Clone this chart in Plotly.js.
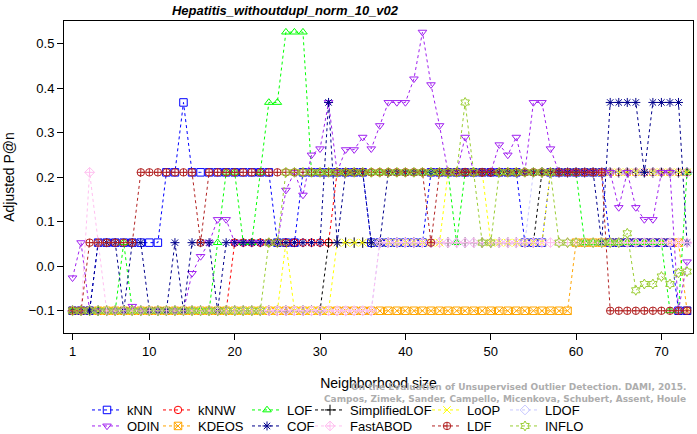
<!DOCTYPE html>
<html>
<head>
<meta charset="utf-8">
<script src="https://cdn.plot.ly/plotly-3.0.1.min.js"></script>
<style>html,body{margin:0;padding:0;background:#fff;}#chart{width:697px;height:434px;}</style>
</head>
<body>
<div id="chart"></div>
<script>
const neighborhood = [1,2,3,4,5,6,7,8,9,10,11,12,13,14,15,16,17,18,19,20,21,22,23,24,25,26,27,28,29,30,31,32,33,34,35,36,37,38,39,40,41,42,43,44,45,46,47,48,49,50,51,52,53,54,55,56,57,58,59,60,61,62,63,64,65,66,67,68,69,70,71,72,73];

const kNN = [-0.1,-0.1,-0.1,0.053,0.053,0.053,0.053,0.053,0.053,0.053,0.053,0.211,0.211,0.368,0.211,0.211,0.211,0.211,0.211,0.211,0.211,0.211,0.211,0.211,0.053,0.053,0.053,0.211,0.211,0.211,0.211,0.211,0.211,0.211,0.211,0.053,0.053,0.053,0.053,0.053,0.053,0.053,0.211,0.211,0.211,0.211,0.211,0.211,0.211,0.211,0.211,0.211,0.211,0.053,0.053,0.053,0.211,0.211,0.211,0.211,0.211,0.211,0.211,0.053,0.053,0.053,0.053,0.053,0.053,0.053,0.053,-0.1,-0.1];
const kNNW = [-0.1,-0.1,-0.1,-0.1,-0.1,-0.1,-0.1,-0.1,-0.1,-0.1,-0.1,-0.1,-0.1,-0.1,-0.1,-0.1,-0.1,-0.1,-0.1,0.053,0.053,0.053,0.053,0.053,0.053,0.053,0.053,0.053,0.053,0.053,0.053,0.211,0.211,0.211,0.211,0.211,0.211,0.211,0.211,0.211,0.211,0.211,0.211,0.211,0.211,0.211,0.211,0.211,0.211,0.211,0.211,0.211,0.211,0.211,0.211,0.211,0.211,0.211,0.211,0.211,0.211,0.211,0.211,0.211,0.211,0.211,0.211,0.211,0.211,0.211,0.211,0.211,0.211];
const LOF = [-0.1,-0.1,-0.1,-0.1,-0.1,-0.1,0.053,-0.1,-0.1,-0.1,-0.1,-0.1,-0.1,-0.1,-0.1,-0.1,-0.1,0.053,0.211,0.211,0.053,0.053,0.211,0.368,0.368,0.526,0.526,0.526,0.211,0.211,0.211,0.211,0.211,0.211,0.211,0.211,0.211,0.211,0.211,0.211,0.211,0.211,0.211,0.211,0.211,0.053,0.211,0.211,0.211,0.211,0.211,0.211,0.211,0.211,0.211,0.211,0.211,0.211,0.211,0.211,0.053,0.053,0.053,0.053,0.053,0.053,0.053,0.053,0.053,0.053,-0.1,-0.1,0.211];
const SimplifiedLOF = [-0.1,-0.1,-0.1,-0.1,-0.1,-0.1,-0.1,-0.1,-0.1,-0.1,-0.1,-0.1,-0.1,-0.1,-0.1,-0.1,-0.1,-0.1,-0.1,-0.1,-0.1,-0.1,-0.1,-0.1,-0.1,-0.1,-0.1,-0.1,-0.1,-0.1,0.053,0.053,0.053,0.053,0.053,0.053,0.053,0.053,0.053,0.053,0.053,0.053,0.053,0.053,0.053,0.053,0.053,0.053,0.053,0.053,0.053,0.053,0.053,0.053,0.053,0.211,0.211,0.211,0.211,0.211,0.211,0.211,0.211,0.211,0.211,0.211,0.211,0.211,0.211,0.211,0.211,0.211,0.211];
const LoOP = [-0.1,-0.1,-0.1,-0.1,-0.1,-0.1,-0.1,-0.1,-0.1,-0.1,-0.1,-0.1,-0.1,-0.1,-0.1,-0.1,-0.1,-0.1,-0.1,-0.1,-0.1,-0.1,-0.1,-0.1,-0.1,0.053,-0.1,-0.1,-0.1,-0.1,-0.1,0.053,0.053,0.053,0.053,0.053,0.053,0.053,0.053,0.053,0.053,0.053,0.053,0.053,0.211,0.211,0.211,0.211,0.211,0.053,0.053,0.053,0.053,0.053,0.053,0.053,0.211,0.211,0.211,0.211,0.211,0.211,0.211,0.211,0.211,0.211,0.211,0.211,0.211,0.211,0.211,0.211,0.211];
const LDOF = [-0.1,-0.1,-0.1,-0.1,-0.1,-0.1,-0.1,-0.1,-0.1,-0.1,-0.1,-0.1,-0.1,-0.1,-0.1,-0.1,-0.1,-0.1,-0.1,-0.1,-0.1,-0.1,-0.1,-0.1,-0.1,-0.1,-0.1,-0.1,-0.1,-0.1,-0.1,-0.1,-0.1,-0.1,-0.1,-0.1,0.053,0.053,0.053,0.053,0.053,0.053,0.053,0.053,0.053,0.053,0.053,0.053,0.053,0.053,0.053,0.053,0.053,0.053,0.211,0.211,0.211,0.211,0.211,0.211,0.211,0.211,0.211,0.211,0.211,0.211,0.211,0.211,0.211,0.211,0.211,0.211,0.211];
const ODIN = [-0.026,0.053,-0.1,-0.1,-0.1,-0.1,-0.1,-0.09,-0.1,-0.1,-0.1,-0.1,-0.1,-0.1,-0.016,0.022,0.053,0.105,0.105,0.053,0.053,0.053,0.053,0.053,0.053,0.171,0.211,0.16,0.25,0.264,0.368,0.211,0.262,0.262,0.29,0.264,0.316,0.368,0.368,0.368,0.421,0.526,0.408,0.316,0.211,0.211,0.29,0.211,0.211,0.211,0.273,0.25,0.29,0.211,0.368,0.368,0.264,0.211,0.211,0.211,0.211,0.211,0.211,0.211,0.132,0.211,0.132,0.105,0.105,0.211,0.211,-0.1,0.01];
const KDEOS = [-0.1,-0.1,-0.1,-0.1,-0.1,-0.1,-0.1,-0.1,-0.1,-0.1,-0.1,-0.1,-0.1,-0.1,-0.1,-0.1,-0.1,-0.1,-0.1,-0.1,-0.1,-0.1,-0.1,-0.1,-0.1,-0.1,-0.1,-0.1,-0.1,-0.1,-0.1,-0.1,-0.1,-0.1,-0.1,-0.1,-0.1,-0.1,-0.1,-0.1,-0.1,-0.1,-0.1,-0.1,-0.1,-0.1,-0.1,-0.1,-0.1,-0.1,-0.1,-0.1,-0.1,-0.1,-0.1,-0.1,-0.1,-0.1,-0.1,0.053,0.053,0.053,0.053,0.053,0.053,0.053,0.053,0.053,0.053,0.053,0.053,0.053,-0.1];
const COF = [-0.1,-0.1,-0.1,0.053,0.053,0.053,-0.1,0.053,0.053,-0.1,-0.1,-0.1,0.053,-0.1,0.053,0.053,0.053,-0.1,0.053,0.053,0.053,0.053,0.053,0.053,0.053,0.053,0.053,0.053,0.053,0.053,0.368,0.053,0.211,0.211,0.211,0.053,0.053,0.211,0.211,0.211,0.211,0.211,0.211,0.211,0.211,0.211,0.211,0.211,0.211,0.211,0.211,0.211,0.211,0.211,0.211,0.211,0.211,0.211,0.211,0.211,0.211,0.211,0.053,0.368,0.368,0.368,0.368,0.211,0.368,0.368,0.368,0.368,0.053];
const FastABOD = [-0.1,-0.1,0.211,0.053,-0.1,-0.1,-0.1,-0.1,-0.1,-0.1,-0.1,-0.1,-0.1,-0.1,-0.1,-0.1,-0.1,-0.1,-0.1,-0.1,-0.1,-0.1,-0.1,-0.1,-0.1,-0.1,-0.1,-0.1,-0.1,-0.1,-0.1,-0.1,-0.1,-0.1,-0.1,-0.1,0.053,0.053,0.053,0.053,0.053,0.053,0.053,0.053,0.053,0.053,0.053,0.053,0.053,0.053,0.053,0.053,0.053,0.053,0.053,0.053,0.053,0.053,0.053,0.053,0.053,0.053,0.053,0.053,0.053,0.053,0.053,0.053,0.053,0.053,0.053,0.053,0.053];
const LDF = [-0.1,-0.1,0.053,0.053,0.053,0.053,0.053,0.053,0.211,0.211,0.211,0.211,0.211,0.211,0.211,0.053,0.211,0.211,0.211,0.211,0.211,0.211,0.211,0.211,0.211,0.211,0.211,0.211,0.211,0.211,0.211,0.211,0.211,0.211,0.211,0.211,0.211,0.211,0.211,0.211,0.211,0.211,0.053,0.211,0.211,0.211,0.211,0.211,0.211,0.211,0.211,0.211,0.211,0.211,0.211,0.211,0.211,0.211,0.211,0.211,0.211,0.211,0.211,-0.1,-0.1,-0.1,-0.1,-0.1,-0.1,-0.1,-0.1,-0.1,-0.1];
const INFLO = [-0.1,-0.1,-0.1,-0.1,-0.1,-0.1,-0.1,-0.1,-0.1,-0.1,-0.1,-0.1,-0.1,-0.1,-0.1,-0.1,-0.1,-0.1,-0.1,-0.1,-0.1,-0.1,-0.1,0.053,0.053,0.211,0.211,0.211,0.211,0.211,0.211,0.211,0.211,0.211,0.211,0.211,0.211,0.211,0.211,0.211,0.211,0.211,0.211,0.211,0.211,0.211,0.368,0.211,0.053,0.053,0.211,0.211,0.211,0.211,0.211,0.211,0.211,0.053,0.053,0.053,0.053,0.053,0.053,0.053,0.053,0.074,-0.054,-0.04,-0.04,-0.023,-0.04,-0.015,-0.012];

const xTicks = [1,10,20,30,40,50,60,70];
const yTicks = [-0.1,0,0.1,0.2,0.3,0.4,0.5];
const yTickText = ["\u22120.1","0.0","0.1","0.2","0.3","0.4","0.5"];

const seriesNames = ["kNN","kNNW","LOF","SimplifiedLOF","LoOP","LDOF","ODIN","KDEOS","COF","FastABOD","LDF","INFLO"];
const seriesValues = [kNN,kNNW,LOF,SimplifiedLOF,LoOP,LDOF,ODIN,KDEOS,COF,FastABOD,LDF,INFLO];
const seriesColors = ["#0000FF","#FF0000","#00FF00","#000000","#FFFF00","#C8C8FF","#A020F0","#FFA500","#00008B","#FFC0F0","#B22222","#9ACD32"];
const seriesSymbols = ["square-open","circle-open","triangle-up-open","cross-thin-open","x-thin-open","diamond-open","triangle-down-open","square-x-open","asterisk-open","diamond-cross-open","circle-cross-open","hexagram-open"];
// drawing order (KDEOS sits underneath the others)
const drawOrder = [7,0,1,2,3,4,5,6,8,9,10,11];

const FONT = "Liberation Sans, Arial, Helvetica, sans-serif";
const W = 697, H = 434, L = 64, R = 693, T = 21, B = 333;
const px2x = p => (p - L) / (R - L);
const px2y = p => (B - p) / (B - T);

// legend layout: 6 columns x 2 rows (text start px, row center px)
const legTextX = [127, 198, 287, 350, 467, 545];
const legRowY = [410, 426];

const traces = drawOrder.map(i => ({
  type: "scatter",
  mode: "lines+markers",
  name: seriesNames[i],
  x: neighborhood,
  y: seriesValues[i],
  line: {color: seriesColors[i], width: 1, dash: "3px,3px"},
  marker: {symbol: seriesSymbols[i], size: 7.5, color: seriesColors[i], line: {width: 1, color: seriesColors[i]}},
  legend: i === 0 ? "legend" : "legend" + (i + 1),
  showlegend: true
}));

const layout = {
  width: W, height: H,
  margin: {l: L, r: W - R, t: T, b: H - B, pad: 0, autoexpand: false},
  paper_bgcolor: "#fff", plot_bgcolor: "#fff",
  font: {family: FONT, size: 13, color: "#000"},
  title: {text: "Hepatitis_withoutdupl_norm_10_v02", x: 285 / W, xref: "container", xanchor: "center", y: 1 - 10 / H, yref: "container", yanchor: "middle",
          font: {family: FONT, size: 13, weight: "bold", style: "italic", color: "#000"}},
  xaxis: {range: [0, 73.7], tickmode: "array", tickvals: xTicks, ticks: "outside", ticklen: 6, tickcolor: "#000", tickwidth: 1,
          showline: true, mirror: true, linecolor: "#000", linewidth: 1, showgrid: false, zeroline: false,
          tickfont: {family: FONT, size: 13, color: "#000"},
          title: {text: "Neighborhood size", font: {family: FONT, size: 14, color: "#000"}, standoff: 20}},
  yaxis: {range: [-0.15, 0.551], tickmode: "array", tickvals: yTicks, ticktext: yTickText, ticks: "outside", ticklen: 6, tickcolor: "#000", tickwidth: 1,
          showline: true, mirror: true, linecolor: "#000", linewidth: 1, showgrid: false, zeroline: false,
          tickfont: {family: FONT, size: 13, color: "#000"},
          title: {text: "Adjusted P@n", font: {family: FONT, size: 14, color: "#000"}, standoff: 10}},
  annotations: [
    {text: "On the Evaluation of Unsupervised Outlier Detection. DAMI, 2015.", xref: "paper", yref: "paper", x: px2x(688), y: px2y(387), xanchor: "right", yanchor: "middle", showarrow: false,
     font: {family: "DejaVu Sans, sans-serif", size: 9, weight: "bold", color: "#ADADAD"}},
    {text: "Campos, Zimek, Sander, Campello, Micenkova, Schubert, Assent, Houle", xref: "paper", yref: "paper", x: px2x(688), y: px2y(399), xanchor: "right", yanchor: "middle", showarrow: false,
     font: {family: "DejaVu Sans, sans-serif", size: 9, weight: "bold", color: "#ADADAD"}}
  ],
  showlegend: true
};

seriesNames.forEach((name, i) => {
  const col = i % 6, row = Math.floor(i / 6);
  const key = i === 0 ? "legend" : "legend" + (i + 1);
  layout[key] = {x: px2x(legTextX[col] - 40), y: px2y(legRowY[row]), xanchor: "left", yanchor: "middle",
                 xref: "paper", yref: "paper", bgcolor: "rgba(0,0,0,0)", borderwidth: 0,
                 font: {family: FONT, size: 13, color: "#000"}, itemwidth: 30, tracegroupgap: 0};
});

Plotly.newPlot("chart", traces, layout, {displayModeBar: false, staticPlot: true});
</script>
</body>
</html>
